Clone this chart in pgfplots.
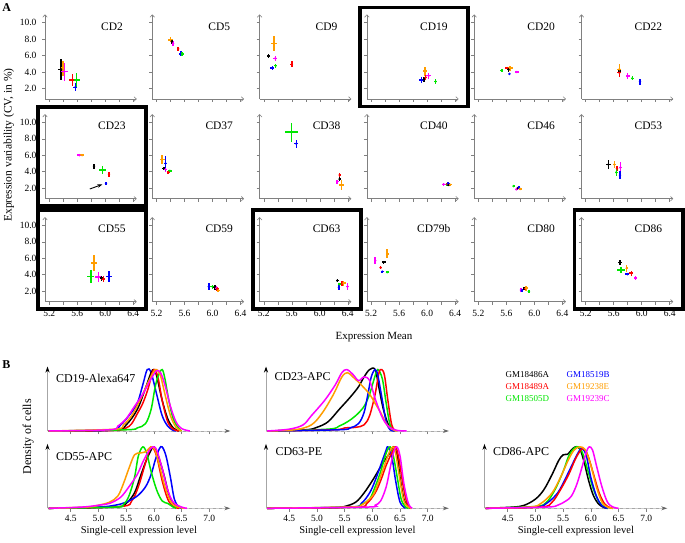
\documentclass[border=0pt]{standalone}
\usepackage{fontspec}
\setmainfont{Liberation Serif}
\usepackage{pgfplots}
\pgfplotsset{compat=1.18}
\usetikzlibrary{arrows.meta}
\definecolor{cK}{HTML}{000000}
\definecolor{cR}{HTML}{FF0000}
\definecolor{cG}{HTML}{00E600}
\definecolor{cB}{HTML}{0000FF}
\definecolor{cO}{HTML}{FF9D00}
\definecolor{cM}{HTML}{FF00FF}
\tikzset{
  cdlab/.style={font=\fontsize{11.5}{12}\selectfont},
  blab/.style={font=\fontsize{12}{13}\selectfont, anchor=west},
}
\pgfplotsset{
  apanel/.style={
    scale only axis, width=91.7pt, height=84.5pt,
    xmin=5.14, xmax=6.45, ymin=0.7, ymax=11.0,
    anchor=south west, clip=false,
    axis lines=left,
    axis line style={gray, line width=0.6pt, -{To[length=3pt,width=5pt]}},
    xtick={5.2,5.6,6.0,6.4}, minor xtick={5.4,5.8,6.2},
    ytick={2,4,6,8,10},
    xticklabels={}, yticklabels={},
    tick style={gray, line width=0.6pt},
    tick align=outside, major tick length=3pt, minor tick length=3pt,
    tick label style={font=\fontsize{9.5}{10}\selectfont},
  },
  showx/.style={xticklabels={5.2,5.6,6.0,6.4}, xticklabel style={yshift=-2pt}},
  showy/.style={yticklabels={2.0,4.0,6.0,8.0,10.0}, yticklabel style={xshift=-2pt}},
  eb/.style={only marks, mark=*, mark size=1pt,
    error bars/x dir=both, error bars/x explicit, error bars/y dir=both, error bars/y explicit,
    error bars/error mark=none, error bars/error bar style={line width=1.5pt}},
  bpanel/.style={
    scale only axis, width=182.8pt, height=64.5pt,
    xmin=4.08, xmax=7.38, ymin=0, ymax=1.05,
    anchor=south west, clip=false,
    axis lines=left,
    x axis line style={gray!70, line width=0.8pt, -{Stealth[length=6pt,width=4pt,color=gray!80!black]}},
    y axis line style={gray!70, line width=0.8pt, -{Stealth[length=6pt,width=4pt,color=black]}},
    xtick={4.5,5.0,5.5,6.0,6.5,7.0}, ytick=\empty,
    xticklabels={},
    tick style={gray, line width=0.6pt},
    tick align=outside, major tick length=3.5pt,
    tick label style={font=\fontsize{9.5}{10}\selectfont},
    every axis plot/.append style={line width=1.5pt, smooth, tension=0.55, no marks},
  },
  showbx/.style={xticklabels={4.5,5.0,5.5,6.0,6.5,7.0}},
}
\newcommand{\abox}{\draw[line width=3.8pt] ([xshift=-7pt,yshift=-7.5pt]rel axis cs:0,0) rectangle ([xshift=9.5pt,yshift=7pt]rel axis cs:1,1);}
\begin{document}
\begin{tikzpicture}
\path[use as bounding box] (0,0) rectangle (685pt,543pt);
% ---------------- Panel A ----------------
\node[font=\bfseries\fontsize{12}{13}\selectfont] at (6.7pt,535.8pt) {A};
\node[font=\fontsize{11.5}{12}\selectfont, rotate=90] at (9pt,398pt) {Expression variability (CV, in \%)};
\node[font=\fontsize{11}{12}\selectfont] at (374pt,206.3pt) {Expression Mean};
% Row 1
\begin{axis}[apanel, showy, at={(45pt,444pt)}]
\addplot[eb, cK] coordinates {(5.37,4.32) +- (0.04,1.3)};
\addplot[eb, cO] coordinates {(5.40,4.45) +- (0.03,0.9)};
\addplot[eb, cM] coordinates {(5.416,4.03) +- (0.05,1.1)};
\addplot[eb, cR] coordinates {(5.535,3.02) +- (0.05,0.75)};
\addplot[eb, cG] coordinates {(5.593,3.02) +- (0.04,0.85)};
\addplot[eb, cB] coordinates {(5.573,2.13) +- (0.03,0.5)};
\node[cdlab] at (rel axis cs:0.73,0.86) {CD2};
\end{axis}
\begin{axis}[apanel, at={(152.3pt,444pt)}]
\addplot[eb, cO] coordinates {(5.40,7.9) +- (0.03,0.3)};
\addplot[eb, cK] coordinates {(5.42,7.69) +- (0.02,0.25)};
\addplot[eb, cM] coordinates {(5.437,7.45) +- (0.02,0.3)};
\addplot[eb, cR] coordinates {(5.51,6.8) +- (0.01,0.2)};
\addplot[eb, cB] coordinates {(5.547,6.19) +- (0.03,0.3)};
\addplot[eb, cG] coordinates {(5.566,6.19) +- (0.03,0.25)};
\node[cdlab] at (rel axis cs:0.73,0.86) {CD5};
\end{axis}
\begin{axis}[apanel, at={(259.6pt,444pt)}]
\addplot[eb, cO] coordinates {(5.344,7.49) +- (0.045,0.9)};
\addplot[eb, cK] coordinates {(5.269,5.94) +- (0.02,0.2)};
\addplot[eb, cM] coordinates {(5.364,5.66) +- (0.03,0.3)};
\addplot[eb, cB] coordinates {(5.321,4.48) +- (0.03,0.2)};
\addplot[eb, cG] coordinates {(5.369,4.76) +- (0.02,0.25)};
\addplot[eb, cR] coordinates {(5.601,4.93) +- (0.02,0.35)};
\node[cdlab] at (rel axis cs:0.73,0.86) {CD9};
\end{axis}
\begin{axis}[apanel, at={(366.9pt,444pt)}]
\addplot[eb, cO] coordinates {(5.969,4.11) +- (0.033,0.55)};
\addplot[eb, cM] coordinates {(6.021,3.54) +- (0.03,0.35)};
\addplot[eb, cR] coordinates {(5.979,3.33) +- (0.02,0.3)};
\addplot[eb, cK] coordinates {(5.954,3.08) +- (0.02,0.3)};
\addplot[eb, cB] coordinates {(5.921,3.0) +- (0.03,0.35)};
\addplot[eb, cG] coordinates {(6.121,2.83) +- (0.02,0.3)};
\node[cdlab] at (rel axis cs:0.73,0.86) {CD19};
\abox
\end{axis}
\begin{axis}[apanel, at={(474.2pt,444pt)}]
\addplot[eb, cG] coordinates {(5.535,4.15) +- (0.02,0.15)};
\addplot[eb, cR] coordinates {(5.616,4.45) +- (0.03,0.15)};
\addplot[eb, cK] coordinates {(5.63,4.32) +- (0.02,0.3)};
\addplot[eb, cB] coordinates {(5.644,3.75) +- (0.01,0.15)};
\addplot[eb, cO] coordinates {(5.654,4.45) +- (0.04,0.3)};
\addplot[eb, cM] coordinates {(5.75,3.99) +- (0.03,0.05)};
\node[cdlab] at (rel axis cs:0.73,0.86) {CD20};
\end{axis}
\begin{axis}[apanel, at={(581.5pt,444pt)}]
\addplot[eb, cK] coordinates {(5.685,4.1) +- (0.02,0.3)};
\addplot[eb, cO] coordinates {(5.68,4.32) +- (0.03,0.6)};
\addplot[eb, cR] coordinates {(5.68,3.9) +- (0.03,0.5)};
\addplot[eb, cM] coordinates {(5.80,3.5) +- (0.03,0.35)};
\addplot[eb, cG] coordinates {(5.866,3.21) +- (0.02,0.25)};
\addplot[eb, cB] coordinates {(5.976,2.81) +- (0.02,0.35)};
\node[cdlab] at (rel axis cs:0.73,0.86) {CD22};
\end{axis}
% Row 2
\begin{axis}[apanel, showy, at={(45pt,344.3pt)}]
\addplot[eb, cM] coordinates {(5.63,6.0) +- (0.03,0.05)};
\addplot[eb, cO] coordinates {(5.669,6.0) +- (0.03,0.05)};
\addplot[eb, cK] coordinates {(5.84,4.67) +- (0.02,0.3)};
\addplot[eb, cG] coordinates {(5.964,4.18) +- (0.05,0.48)};
\addplot[eb, cR] coordinates {(6.054,3.7) +- (0.02,0.3)};
\addplot[eb, cB] coordinates {(6.011,2.57) +- (0.02,0.2)};
\draw[-{Stealth[length=5pt,width=3.5pt]}, line width=0.9pt] (axis cs:5.78,1.88) -- (axis cs:5.96,2.45);
\node[cdlab] at (rel axis cs:0.73,0.86) {CD23};
\abox
\end{axis}
\begin{axis}[apanel, at={(152.3pt,344.3pt)}]
\addplot[eb, cO] coordinates {(5.28,5.48) +- (0.036,0.55)};
\addplot[eb, cK] coordinates {(5.304,4.39) +- (0.02,0.2)};
\addplot[eb, cM] coordinates {(5.329,4.27) +- (0.02,0.35)};
\addplot[eb, cB] coordinates {(5.329,5.0) +- (0.02,0.95)};
\addplot[eb, cG] coordinates {(5.39,4.1) +- (0.03,0.15)};
\addplot[eb, cR] coordinates {(5.366,3.9) +- (0.02,0.15)};
\node[cdlab] at (rel axis cs:0.73,0.86) {CD37};
\end{axis}
\begin{axis}[apanel, at={(259.6pt,344.3pt)}]
\addplot[eb, cG] coordinates {(5.593,8.82) +- (0.093,1.15)};
\addplot[eb, cB] coordinates {(5.664,7.42) +- (0.03,0.48)};
\addplot[eb, cR] coordinates {(6.283,3.58) +- (0.01,0.2)};
\addplot[eb, cK] coordinates {(6.283,3.09) +- (0.01,0.2)};
\addplot[eb, cM] coordinates {(6.249,2.77) +- (0.02,0.25)};
\addplot[eb, cO] coordinates {(6.309,2.36) +- (0.038,0.57)};
\node[cdlab] at (rel axis cs:0.73,0.86) {CD38};
\end{axis}
\begin{axis}[apanel, at={(366.9pt,344.3pt)}]
\addplot[eb, cM] coordinates {(6.236,2.45) +- (0.03,0.2)};
\addplot[eb, cG] coordinates {(6.283,2.45) +- (0.02,0.15)};
\addplot[eb, cR] coordinates {(6.29,2.5) +- (0.02,0.15)};
\addplot[eb, cB] coordinates {(6.301,2.52) +- (0.02,0.2)};
\addplot[eb, cK] coordinates {(6.311,2.36) +- (0.02,0.15)};
\addplot[eb, cO] coordinates {(6.33,2.4) +- (0.02,0.15)};
\node[cdlab] at (rel axis cs:0.73,0.86) {CD40};
\end{axis}
\begin{axis}[apanel, at={(474.2pt,344.3pt)}]
\addplot[eb, cG] coordinates {(5.702,2.24) +- (0.01,0.1)};
\addplot[eb, cR] coordinates {(5.765,2.0) +- (0.01,0.1)};
\addplot[eb, cK] coordinates {(5.759,1.96) +- (0.02,0.15)};
\addplot[eb, cM] coordinates {(5.74,1.84) +- (0.02,0.1)};
\addplot[eb, cB] coordinates {(5.779,2.04) +- (0.01,0.2)};
\addplot[eb, cO] coordinates {(5.797,1.88) +- (0.02,0.1)};
\node[cdlab] at (rel axis cs:0.73,0.86) {CD46};
\end{axis}
\begin{axis}[apanel, at={(581.5pt,344.3pt)}]
\addplot[eb, cK] coordinates {(5.523,4.87) +- (0.033,0.55)};
\addplot[eb, cO] coordinates {(5.609,4.87) +- (0.025,0.45)};
\addplot[eb, cR] coordinates {(5.647,4.39) +- (0.02,0.3)};
\addplot[eb, cG] coordinates {(5.637,3.9) +- (0.02,0.45)};
\addplot[eb, cM] coordinates {(5.694,4.5) +- (0.02,0.7)};
\addplot[eb, cB] coordinates {(5.69,3.58) +- (0.02,0.45)};
\node[cdlab] at (rel axis cs:0.73,0.86) {CD53};
\end{axis}
% Row 3
\begin{axis}[apanel, showy, showx, at={(45pt,241.3pt)}]
\addplot[eb, cO] coordinates {(5.84,5.39) +- (0.048,0.95)};
\addplot[eb, cG] coordinates {(5.797,3.76) +- (0.05,0.77)};
\addplot[eb, cM] coordinates {(5.901,3.68) +- (0.04,0.6)};
\addplot[eb, cK] coordinates {(5.95,3.56) +- (0.03,0.3)};
\addplot[eb, cR] coordinates {(5.973,3.44) +- (0.03,0.4)};
\addplot[eb, cB] coordinates {(6.054,3.76) +- (0.04,0.65)};
\node[cdlab] at (rel axis cs:0.73,0.86) {CD55};
\abox
\end{axis}
\begin{axis}[apanel, showx, at={(152.3pt,241.3pt)}]
\addplot[eb, cB] coordinates {(5.947,2.54) +- (0.01,0.4)};
\addplot[eb, cG] coordinates {(6.0,2.54) +- (0.03,0.25)};
\addplot[eb, cK] coordinates {(6.033,2.46) +- (0.03,0.3)};
\addplot[eb, cM] coordinates {(6.057,2.34) +- (0.02,0.25)};
\addplot[eb, cR] coordinates {(6.066,2.26) +- (0.02,0.25)};
\addplot[eb, cO] coordinates {(6.08,2.05) +- (0.02,0.2)};
\node[cdlab] at (rel axis cs:0.73,0.86) {CD59};
\end{axis}
\begin{axis}[apanel, showx, at={(259.6pt,241.3pt)}]
\addplot[eb, cK] coordinates {(6.25,3.27) +- (0.02,0.2)};
\addplot[eb, cG] coordinates {(6.283,2.83) +- (0.02,0.2)};
\addplot[eb, cB] coordinates {(6.273,2.46) +- (0.02,0.3)};
\addplot[eb, cR] coordinates {(6.316,2.95) +- (0.02,0.3)};
\addplot[eb, cO] coordinates {(6.34,2.95) +- (0.03,0.3)};
\addplot[eb, cM] coordinates {(6.397,2.54) +- (0.02,0.4)};
\node[cdlab] at (rel axis cs:0.73,0.86) {CD63};
\abox
\end{axis}
\begin{axis}[apanel, showx, at={(366.9pt,241.3pt)}]
\addplot[eb, cM] coordinates {(5.259,5.71) +- (0.01,0.4)};
\addplot[eb, cO] coordinates {(5.43,6.52) +- (0.02,0.55)};
\addplot[eb, cK] coordinates {(5.379,5.51) +- (0.03,0.2)};
\addplot[eb, cR] coordinates {(5.336,4.85) +- (0.01,0.2)};
\addplot[eb, cB] coordinates {(5.359,4.37) +- (0.02,0.05)};
\addplot[eb, cG] coordinates {(5.43,4.29) +- (0.02,0.1)};
\node[cdlab] at (rel axis cs:0.73,0.86) {CD79b};
\end{axis}
\begin{axis}[apanel, showx, at={(474.2pt,241.3pt)}]
\addplot[eb, cM] coordinates {(5.807,2.13) +- (0.01,0.2)};
\addplot[eb, cB] coordinates {(5.821,2.05) +- (0.01,0.2)};
\addplot[eb, cK] coordinates {(5.854,2.29) +- (0.02,0.15)};
\addplot[eb, cR] coordinates {(5.87,2.3) +- (0.02,0.2)};
\addplot[eb, cO] coordinates {(5.883,2.34) +- (0.02,0.3)};
\addplot[eb, cG] coordinates {(5.921,1.93) +- (0.01,0.2)};
\node[cdlab] at (rel axis cs:0.73,0.86) {CD80};
\end{axis}
\begin{axis}[apanel, showx, at={(581.5pt,241.3pt)}]
\addplot[eb, cK] coordinates {(5.69,5.46) +- (0.03,0.3)};
\addplot[eb, cG] coordinates {(5.704,4.57) +- (0.06,0.35)};
\addplot[eb, cO] coordinates {(5.786,4.78) +- (0.01,0.4)};
\addplot[eb, cB] coordinates {(5.794,4.05) +- (0.03,0.15)};
\addplot[eb, cR] coordinates {(5.851,4.17) +- (0.03,0.3)};
\addplot[eb, cM] coordinates {(5.914,3.6) +- (0.02,0.25)};
\node[cdlab] at (rel axis cs:0.73,0.86) {CD86};
\abox
\end{axis}
% ---------------- Panel B ----------------
\node[font=\bfseries\fontsize{12}{13}\selectfont] at (6.4pt,178pt) {B};
\node[font=\fontsize{12}{13}\selectfont, rotate=90] at (28.3pt,106.3pt) {Density of cells};
\node[font=\fontsize{9}{10}\selectfont, anchor=west, text=cK] at (502pt,168pt) {GM18486A};
\node[font=\fontsize{9}{10}\selectfont, anchor=west, text=cB] at (563pt,168pt) {GM18519B};
\node[font=\fontsize{9}{10}\selectfont, anchor=west, text=cR] at (502pt,156.3pt) {GM18489A};
\node[font=\fontsize{9}{10}\selectfont, anchor=west, text=cO] at (563pt,156.3pt) {GM19238E};
\node[font=\fontsize{9}{10}\selectfont, anchor=west, text=cG] at (502pt,144.7pt) {GM18505D};
\node[font=\fontsize{9}{10}\selectfont, anchor=west, text=cM] at (563pt,144.7pt) {GM19239C};
% CD19
\begin{axis}[bpanel, at={(47.5pt,112pt)}]
\addplot[gray!40, dashed, line width=0.7pt, sharp plot] coordinates {(4.08,0) (7.3,0)};
\addplot[cB] coordinates {(4.1,0) (5.2,0.01) (5.4,0.1) (5.55,0.25) (5.7,0.45) (5.8,0.75) (5.88,1.0) (5.95,0.95) (6.05,0.6) (6.15,0.25) (6.25,0.08) (6.35,0.01) (6.4,0)};
\addplot[cK] coordinates {(4.1,0) (5.3,0.02) (5.5,0.1) (5.7,0.35) (5.85,0.7) (5.95,0.95) (6.0,1.0) (6.05,0.9) (6.15,0.5) (6.25,0.2) (6.35,0.05) (6.45,0)};
\addplot[cR] coordinates {(4.1,0) (5.3,0.01) (5.5,0.05) (5.6,0.12) (5.7,0.28) (5.8,0.45) (5.9,0.7) (5.97,0.95) (6.02,1.0) (6.08,0.85) (6.15,0.5) (6.25,0.15) (6.35,0.03) (6.45,0)};
\addplot[cG] coordinates {(4.1,0) (5.5,0.02) (5.7,0.05) (5.85,0.12) (5.95,0.35) (6.02,0.7) (6.08,0.9) (6.15,1.0) (6.2,0.85) (6.27,0.5) (6.35,0.2) (6.45,0.04) (6.5,0)};
\addplot[cO] coordinates {(4.1,0) (5.3,0.03) (5.45,0.1) (5.6,0.25) (5.75,0.5) (5.9,0.8) (6.0,0.97) (6.05,1.0) (6.12,0.9) (6.2,0.6) (6.3,0.25) (6.4,0.06) (6.5,0)};
\addplot[cM] coordinates {(4.1,0) (5.2,0.02) (5.35,0.08) (5.5,0.2) (5.65,0.4) (5.8,0.6) (5.95,0.85) (6.05,0.98) (6.12,0.95) (6.2,0.75) (6.3,0.4) (6.4,0.15) (6.5,0.04) (6.65,0)};
\node[blab] at (rel axis cs:0,0.82) [xshift=5pt] {CD19-Alexa647};
\end{axis}
% CD23
\begin{axis}[bpanel, at={(266pt,112pt)}]
\addplot[gray!40, dashed, line width=0.7pt, sharp plot] coordinates {(4.08,0) (7.3,0)};
\addplot[cK] coordinates {(4.1,0) (4.8,0.02) (5.0,0.06) (5.2,0.15) (5.4,0.35) (5.6,0.55) (5.75,0.72) (5.85,0.88) (5.95,1.0) (6.05,1.0) (6.12,0.7) (6.2,0.35) (6.3,0.08) (6.4,0)};
\addplot[cG] coordinates {(4.1,0) (5.2,0.03) (5.4,0.08) (5.55,0.15) (5.7,0.25) (5.85,0.4) (5.95,0.6) (6.05,0.9) (6.1,1.0) (6.18,0.85) (6.25,0.45) (6.32,0.1) (6.4,0)};
\addplot[cR] coordinates {(4.1,0) (5.3,0.02) (5.5,0.05) (5.7,0.06) (5.85,0.1) (5.95,0.25) (6.05,0.6) (6.12,0.95) (6.17,1.0) (6.22,0.9) (6.28,0.5) (6.35,0.1) (6.42,0)};
\addplot[cB] coordinates {(4.1,0) (5.4,0.02) (5.6,0.05) (5.75,0.12) (5.85,0.3) (5.92,0.6) (5.98,0.88) (6.05,1.0) (6.1,0.9) (6.18,0.5) (6.25,0.15) (6.32,0.02) (6.4,0)};
\addplot[cO] coordinates {(4.1,0) (4.6,0.02) (4.9,0.1) (5.1,0.3) (5.3,0.6) (5.45,0.88) (5.55,0.95) (5.65,0.88) (5.8,0.75) (5.95,0.6) (6.05,0.45) (6.15,0.3) (6.25,0.12) (6.35,0.03) (6.45,0)};
\addplot[cM] coordinates {(4.1,0) (4.5,0.03) (4.75,0.1) (4.9,0.25) (5.14,0.5) (5.33,0.75) (5.45,0.95) (5.54,1.0) (5.65,0.92) (5.75,0.82) (5.85,0.88) (5.95,0.82) (6.06,0.5) (6.19,0.2) (6.31,0.06) (6.45,0.01) (6.62,0)};
\node[blab] at (rel axis cs:0,0.84) [xshift=5pt] {CD23-APC};
\end{axis}
% CD55
\begin{axis}[bpanel, showbx, at={(47.5pt,34.7pt)}, xlabel={Single-cell expression level}, xlabel style={font=\fontsize{10.5}{11}\selectfont, yshift=2pt}]
\addplot[gray!40, dashed, line width=0.7pt, sharp plot] coordinates {(4.08,0) (7.3,0)};
\addplot[cK] coordinates {(4.1,0) (5.3,0.02) (5.5,0.08) (5.65,0.25) (5.75,0.5) (5.85,0.75) (5.95,0.95) (6.0,1.0) (6.08,0.85) (6.18,0.55) (6.28,0.2) (6.38,0.05) (6.45,0)};
\addplot[cR] coordinates {(4.1,0) (5.4,0.03) (5.6,0.12) (5.72,0.35) (5.82,0.65) (5.92,0.95) (5.97,1.0) (6.05,0.85) (6.15,0.45) (6.25,0.15) (6.35,0.03) (6.45,0)};
\addplot[cB] coordinates {(4.1,0) (5.0,0.02) (5.3,0.05) (5.5,0.1) (5.7,0.2) (5.85,0.35) (5.95,0.55) (6.03,0.8) (6.1,0.97) (6.15,1.0) (6.22,0.85) (6.3,0.5) (6.37,0.15) (6.45,0.02) (6.5,0)};
\addplot[cG] coordinates {(4.1,0) (5.3,0.02) (5.45,0.06) (5.55,0.2) (5.65,0.5) (5.72,0.85) (5.8,1.0) (5.87,0.9) (5.95,0.6) (6.05,0.3) (6.15,0.12) (6.25,0.08) (6.35,0.02) (6.4,0)};
\addplot[cO] coordinates {(4.1,0) (4.8,0.02) (5.0,0.05) (5.2,0.1) (5.35,0.2) (5.45,0.4) (5.55,0.65) (5.65,0.87) (5.75,0.9) (5.85,0.92) (5.95,1.0) (6.02,0.95) (6.1,0.7) (6.2,0.35) (6.3,0.12) (6.4,0.03) (6.55,0)};
\addplot[cM] coordinates {(4.1,0) (4.7,0.02) (5.0,0.05) (5.2,0.08) (5.4,0.18) (5.55,0.35) (5.7,0.55) (5.8,0.75) (5.9,0.92) (5.98,1.0) (6.05,0.95) (6.15,0.65) (6.25,0.3) (6.35,0.1) (6.5,0.02) (6.6,0)};
\node[blab] at (rel axis cs:0,0.8) [xshift=5pt] {CD55-APC};
\end{axis}
% CD63
\begin{axis}[bpanel, showbx, at={(266pt,34.7pt)}, xlabel={Single-cell expression level}, xlabel style={font=\fontsize{10.5}{11}\selectfont, yshift=2pt}]
\addplot[gray!40, dashed, line width=0.7pt, sharp plot] coordinates {(4.08,0) (7.3,0)};
\addplot[cK] coordinates {(4.1,0) (5.3,0.01) (5.5,0.03) (5.7,0.1) (5.85,0.25) (6.0,0.45) (6.1,0.6) (6.2,0.75) (6.3,0.88) (6.38,1.0) (6.45,0.85) (6.5,0.5) (6.57,0.15) (6.65,0.02) (6.7,0)};
\addplot[cB] coordinates {(4.1,0) (5.6,0.02) (5.8,0.08) (5.95,0.25) (6.05,0.45) (6.15,0.7) (6.25,0.95) (6.28,1.0) (6.35,0.85) (6.42,0.45) (6.5,0.1) (6.6,0)};
\addplot[cG] coordinates {(4.1,0) (5.6,0.02) (5.8,0.06) (5.95,0.15) (6.05,0.35) (6.15,0.6) (6.25,0.9) (6.32,1.0) (6.38,0.85) (6.45,0.5) (6.52,0.15) (6.6,0.02) (6.65,0)};
\addplot[cR] coordinates {(4.1,0) (5.7,0.02) (5.9,0.08) (6.05,0.25) (6.15,0.45) (6.25,0.7) (6.35,0.9) (6.42,1.0) (6.48,0.8) (6.55,0.4) (6.62,0.1) (6.7,0)};
\addplot[cO] coordinates {(4.1,0) (5.6,0.02) (5.8,0.05) (6.0,0.2) (6.1,0.4) (6.2,0.65) (6.3,0.9) (6.37,1.0) (6.42,0.9) (6.5,0.45) (6.57,0.12) (6.65,0.02) (6.7,0)};
\addplot[cM] coordinates {(4.1,0) (5.9,0.02) (6.05,0.05) (6.15,0.12) (6.25,0.35) (6.32,0.65) (6.38,0.9) (6.44,1.0) (6.5,0.85) (6.57,0.4) (6.65,0.08) (6.72,0)};
\node[blab] at (rel axis cs:0,0.88) [xshift=6pt] {CD63-PE};
\end{axis}
% CD86
\begin{axis}[bpanel, showbx, at={(484.5pt,34.7pt)}, xlabel={Single-cell expression level}, xlabel style={font=\fontsize{10.5}{11}\selectfont, yshift=2pt}]
\addplot[gray!40, dashed, line width=0.7pt, sharp plot] coordinates {(4.08,0) (7.3,0)};
\addplot[cK] coordinates {(4.1,0) (4.6,0.02) (4.8,0.05) (5.0,0.15) (5.15,0.3) (5.3,0.55) (5.42,0.78) (5.5,0.87) (5.58,0.88) (5.65,0.95) (5.72,1.0) (5.8,0.97) (5.88,0.75) (5.96,0.45) (6.05,0.2) (6.15,0.06) (6.25,0.01) (6.3,0)};
\addplot[cG] coordinates {(4.1,0) (5.0,0.03) (5.2,0.1) (5.35,0.3) (5.5,0.6) (5.6,0.85) (5.7,0.98) (5.78,1.0) (5.85,0.9) (5.95,0.6) (6.05,0.3) (6.15,0.1) (6.25,0.02) (6.3,0)};
\addplot[cB] coordinates {(4.1,0) (5.0,0.02) (5.2,0.08) (5.4,0.25) (5.55,0.5) (5.7,0.78) (5.8,0.95) (5.85,0.97) (5.92,0.85) (6.0,0.5) (6.1,0.2) (6.2,0.04) (6.3,0)};
\addplot[cR] coordinates {(4.1,0) (5.1,0.02) (5.3,0.1) (5.45,0.3) (5.6,0.55) (5.72,0.8) (5.82,0.95) (5.88,0.97) (5.95,0.85) (6.05,0.55) (6.15,0.25) (6.25,0.07) (6.35,0.01) (6.4,0)};
\addplot[cO] coordinates {(4.1,0) (4.9,0.02) (5.1,0.08) (5.3,0.25) (5.45,0.5) (5.6,0.8) (5.7,0.95) (5.8,1.0) (5.9,0.95) (6.0,0.7) (6.1,0.35) (6.2,0.1) (6.3,0.02) (6.4,0)};
\addplot[cM] coordinates {(4.1,0) (5.2,0.02) (5.4,0.05) (5.55,0.12) (5.65,0.2) (5.75,0.4) (5.85,0.7) (5.92,0.92) (5.97,1.0) (6.03,0.95) (6.1,0.7) (6.2,0.35) (6.3,0.1) (6.4,0.02) (6.5,0)};
\node[blab] at (rel axis cs:0,0.88) [xshift=5pt] {CD86-APC};
\end{axis}
\end{tikzpicture}
\end{document}
